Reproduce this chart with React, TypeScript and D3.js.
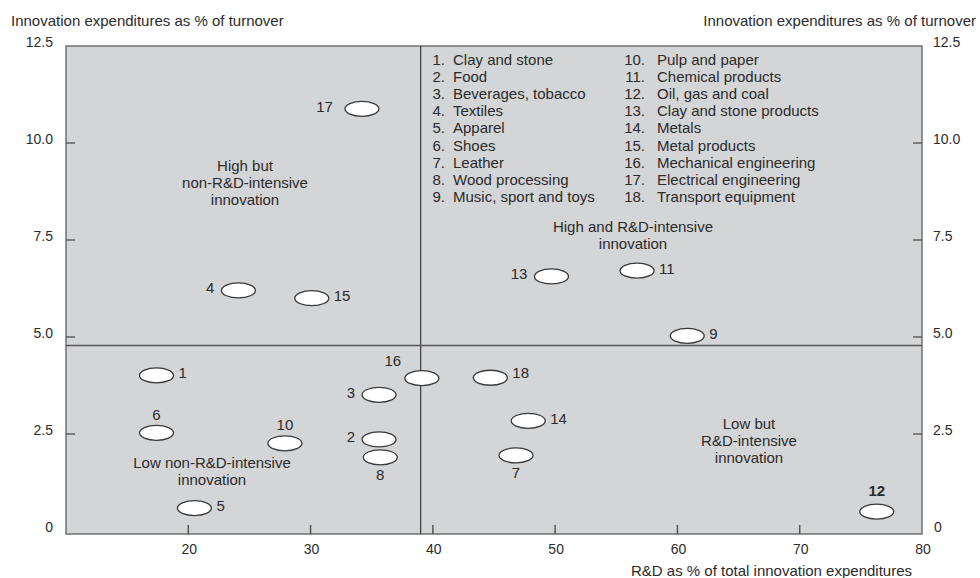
import React, { useEffect, useRef } from "react";
import * as d3 from "d3";

// sectors (id + legend name)
const sectorIds = [1, 2, 3, 4, 5, 6, 7, 8, 9, 10, 11, 12, 13, 14, 15, 16, 17, 18];
const sectorNames = [
  "Clay and stone",
  "Food",
  "Beverages, tobacco",
  "Textiles",
  "Apparel",
  "Shoes",
  "Leather",
  "Wood processing",
  "Music, sport and toys",
  "Pulp and paper",
  "Chemical products",
  "Oil, gas and coal",
  "Clay and stone products",
  "Metals",
  "Metal products",
  "Mechanical engineering",
  "Electrical engineering",
  "Transport equipment",
];
// R&D as % of total innovation expenditures
const rdShare = [17.4, 35.6, 35.6, 24.1, 20.5, 17.4, 46.8, 35.7, 60.8, 27.9, 56.7, 76.3, 49.7, 47.8, 30.1, 39.1, 34.2, 44.7];
// innovation expenditures as % of turnover
const innovShare = [4.01, 2.36, 3.51, 6.2, 0.59, 2.53, 1.95, 1.9, 5.03, 2.26, 6.71, 0.5, 6.56, 2.84, 6.0, 3.94, 10.88, 3.95];

const xTicks = [20, 30, 40, 50, 60, 70, 80];
const yTicks = [0, 2.5, 5, 7.5, 10, 12.5];
const xSplit = 39;
const ySplit = 4.78;

// where each number label sits around its ellipse
const labelSide: Record<number, string> = {
  1: "r", 2: "l", 3: "l", 4: "l", 5: "r", 6: "t", 7: "b", 8: "b", 9: "r",
  10: "t", 11: "r", 12: "t", 13: "l", 14: "r", 15: "r", 16: "tl", 17: "l", 18: "r",
};

const FONT = "'Liberation Sans', Arial, sans-serif";
const TEXT = "#2b2b2b";

export default function App() {
  const ref = useRef<SVGSVGElement>(null);

  useEffect(() => {
    const svg = d3.select(ref.current);
    svg.selectAll("*").remove();

    const left = 66, right = 922, top = 46, bottom = 534;
    const x = d3.scaleLinear().domain([10, 80]).range([left, right]);
    const y = d3.scaleLinear().domain([0, 12.5]).range([531, top]);

    const g = svg.append("g").attr("font-family", FONT).attr("fill", TEXT);

    // plot background
    g.append("rect")
      .attr("x", left)
      .attr("y", top)
      .attr("width", right - left)
      .attr("height", bottom - top)
      .attr("fill", "#d4d5d7")
      .attr("stroke", "#707070")
      .attr("stroke-width", 1.5);

    // quadrant dividers
    g.append("line")
      .attr("x1", x(xSplit)).attr("x2", x(xSplit))
      .attr("y1", top).attr("y2", bottom)
      .attr("stroke", "#444").attr("stroke-width", 1.3);
    g.append("line")
      .attr("x1", left).attr("x2", right)
      .attr("y1", y(ySplit)).attr("y2", y(ySplit))
      .attr("stroke", "#555").attr("stroke-width", 1.5);

    // x ticks (inside, upward)
    g.selectAll(".xt")
      .data(xTicks.filter((d) => d < 80))
      .enter()
      .append("line")
      .attr("x1", (d) => x(d)).attr("x2", (d) => x(d))
      .attr("y1", bottom).attr("y2", bottom - 9)
      .attr("stroke", "#555").attr("stroke-width", 1.5);
    g.selectAll(".xl")
      .data(xTicks)
      .enter()
      .append("text")
      .attr("x", (d) => x(d) + 1)
      .attr("y", 554)
      .attr("text-anchor", "middle")
      .attr("font-size", 14)
      .text((d) => d);

    // y ticks both sides
    const inner = yTicks.filter((d) => d > 0 && d < 12.5);
    g.selectAll(".ytl")
      .data(inner)
      .enter()
      .append("line")
      .attr("x1", left).attr("x2", left + 9)
      .attr("y1", (d) => y(d)).attr("y2", (d) => y(d))
      .attr("stroke", "#444").attr("stroke-width", 1.2);
    g.selectAll(".ytr")
      .data(inner)
      .enter()
      .append("line")
      .attr("x1", right).attr("x2", right - 9)
      .attr("y1", (d) => y(d)).attr("y2", (d) => y(d))
      .attr("stroke", "#444").attr("stroke-width", 1.2);
    const fmt = (d: number) => (d === 0 ? "0" : d3.format(".1f")(d));
    g.selectAll(".yl")
      .data(yTicks)
      .enter()
      .append("text")
      .attr("x", 53)
      .attr("y", (d) => y(d) + 1)
      .attr("text-anchor", "end")
      .attr("font-size", 14)
      .text(fmt);
    g.selectAll(".yr")
      .data(yTicks)
      .enter()
      .append("text")
      .attr("x", (d) => (d === 0 ? 934 : 933))
      .attr("y", (d) => y(d) + 1)
      .attr("text-anchor", "start")
      .attr("font-size", 14)
      .text(fmt);

    // axis titles
    g.append("text").attr("x", 11).attr("y", 26).attr("font-size", 15)
      .text("Innovation expenditures as % of turnover");
    g.append("text").attr("x", 976).attr("y", 26).attr("font-size", 15)
      .attr("text-anchor", "end")
      .text("Innovation expenditures as % of turnover");
    g.append("text").attr("x", 912).attr("y", 576).attr("font-size", 15)
      .attr("text-anchor", "end")
      .text("R&D as % of total innovation expenditures");

    // quadrant captions
    const captions: [number, number, string[]][] = [
      [245, 171, ["High but", "non-R&D-intensive", "innovation"]],
      [633, 232, ["High and R&D-intensive", "innovation"]],
      [749, 429, ["Low but", "R&D-intensive", "innovation"]],
      [212, 468, ["Low non-R&D-intensive", "innovation"]],
    ];
    captions.forEach(([cx, cy, lines]) => {
      const t = g.append("text").attr("text-anchor", "middle").attr("font-size", 15);
      lines.forEach((l, i) => {
        t.append("tspan").attr("x", cx).attr("y", cy + i * 17).text(l);
      });
    });

    // legend
    const legend = g.append("g").attr("font-size", 15);
    sectorIds.forEach((id, i) => {
      const col = i < 9 ? 0 : 1;
      const row = i % 9;
      const ly = 65 + row * 17.1;
      legend.append("text")
        .attr("x", col === 0 ? 445 : 645)
        .attr("y", ly)
        .attr("text-anchor", "end")
        .text(id + ".");
      legend.append("text")
        .attr("x", col === 0 ? 453 : 657)
        .attr("y", ly)
        .text(sectorNames[i]);
    });

    // points
    const pts = sectorIds.map((id, i) => ({ id, x: rdShare[i], y: innovShare[i] }));
    const pg = g.append("g");
    pg.selectAll("ellipse")
      .data(pts)
      .enter()
      .append("ellipse")
      .attr("cx", (d) => x(d.x))
      .attr("cy", (d) => y(d.y))
      .attr("rx", 17)
      .attr("ry", 7.5)
      .attr("fill", "#fff")
      .attr("stroke", "#3a3a3a")
      .attr("stroke-width", 1.3);

    pg.selectAll("text")
      .data(pts)
      .enter()
      .append("text")
      .attr("font-size", 15)
      .attr("font-weight", (d) => (d.id === 12 ? "bold" : "normal"))
      .attr("text-anchor", (d) => {
        const s = labelSide[d.id];
        return s === "r" ? "start" : s === "l" ? "end" : "middle";
      })
      .attr("x", (d) => {
        const s = labelSide[d.id];
        const cx = x(d.x);
        if (s === "r") return cx + 22;
        if (s === "l") return cx - (d.id === 17 ? 29 : 24);
        if (s === "tl") return cx - 29;
        return cx;
      })
      .attr("y", (d) => {
        const s = labelSide[d.id];
        const cy = y(d.y);
        if (s === "t") return cy - (d.id === 12 ? 16 : 13);
        if (s === "tl") return cy - 12;
        if (s === "b") return cy + 23;
        if (d.id === 18) return cy;
        return cy + 3;
      })
      .text((d) => d.id);
  }, []);

  return (
    <svg
      ref={ref}
      width={980}
      height={578}
      style={{ position: "absolute", left: 0, top: 0, background: "#fff" }}
    />
  );
}
